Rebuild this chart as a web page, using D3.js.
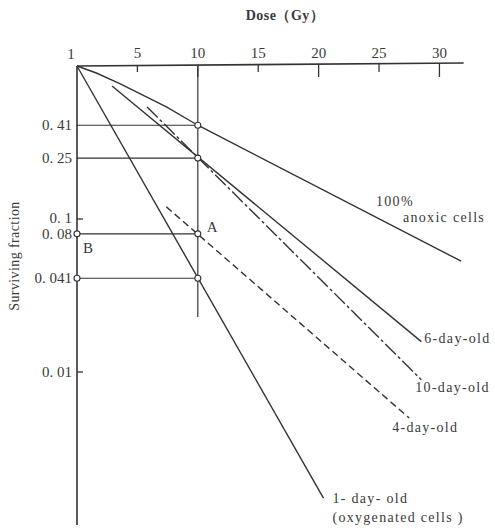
<!DOCTYPE html>
<html>
<head>
<meta charset="utf-8">
<script src="https://cdn.jsdelivr.net/npm/d3@7"></script>
<style>
  body { margin: 0; background: #fff; }
  text { font-family: "Liberation Serif", "DejaVu Serif", serif; fill: #3a3a3a; }
</style>
</head>
<body>
<svg width="495" height="532"></svg>
<script>
// dose ticks (Gy) and surviving fraction ticks
const doseTicks = [5, 10, 15, 20, 25, 30];
const fracTicks = [0.41, 0.25, 0.1, 0.08, 0.041, 0.01];
const refLevels = [0.41, 0.25, 0.08, 0.041];
const refDose = 10;

// curves [dose, surviving fraction]
const anoxic = [[0, 1], [1.6, 0.9], [3.5, 0.77], [7.4, 0.54], [10, 0.41], [31.8, 0.053]];
const sixDay = [[2.9, 0.74], [28.5, 0.0158]];
const tenDay = [[5.8, 0.54], [28.5, 0.0089]];
const fourDay = [[7.4, 0.12], [27.5, 0.005]];
const oneDay = [[0, 1], [20.4, 0.0015]];

const svg = d3.select("svg");
const x = d3.scaleLinear().domain([0, 32]).range([77, 463.6]);
const y = d3.scaleLog().domain([1, 0.001]).range([66, 525]);
const ink = "#333";

const line = d3.line().x(d => x(d[0])).y(d => y(d[1]));

// x axis (top)
svg.append("line")
  .attr("x1", x(0)).attr("x2", x(32)).attr("y1", y(1)).attr("y2", y(1) - 3)
  .attr("stroke", ink).attr("stroke-width", 1.6);
svg.selectAll(".xt").data(doseTicks).enter().append("line")
  .attr("x1", d => x(d)).attr("x2", d => x(d))
  .attr("y1", d => y(1) - d / 11).attr("y2", d => y(1) + (d % 10 === 0 ? 11 : 6))
  .attr("stroke", ink).attr("stroke-width", 1.3);
svg.selectAll(".xl").data(doseTicks).enter().append("text")
  .attr("x", d => x(d)).attr("y", 58)
  .attr("text-anchor", "middle").attr("font-size", 15)
  .text(d => d);
svg.append("text").attr("x", 71).attr("y", 59)
  .attr("text-anchor", "middle").attr("font-size", 15).text("1");
svg.append("text").attr("x", 285).attr("y", 20)
  .attr("text-anchor", "middle").attr("font-size", 14).attr("font-weight", "bold")
  .attr("letter-spacing", 0.5)
  .text("Dose（Gy）");

// y axis (left)
svg.append("line")
  .attr("x1", x(0)).attr("x2", x(0)).attr("y1", y(1)).attr("y2", y(0.001))
  .attr("stroke", ink).attr("stroke-width", 1.6);
svg.selectAll(".yt").data(fracTicks.filter(d => !refLevels.includes(d))).enter().append("line")
  .attr("x1", x(0)).attr("x2", x(0) + 6)
  .attr("y1", d => y(d)).attr("y2", d => y(d))
  .attr("stroke", ink).attr("stroke-width", 1.3);
svg.selectAll(".yl").data(fracTicks).enter().append("text")
  .attr("x", 72).attr("y", d => y(d) + (d === 0.1 ? -1 : 0))
  .attr("dy", "0.35em")
  .attr("text-anchor", "end").attr("font-size", 15)
  .text(d => String(d).replace(".", ". "));
svg.append("text")
  .attr("transform", "translate(19,256) rotate(-90)")
  .attr("text-anchor", "middle").attr("font-size", 14).attr("letter-spacing", 0.4)
  .text("Surviving fraction");

// reference lines at 10 Gy
svg.append("line")
  .attr("x1", x(refDose)).attr("x2", x(refDose)).attr("y1", y(1) - 1).attr("y2", 317)
  .attr("stroke", ink).attr("stroke-width", 1.2);
svg.selectAll(".ref").data(refLevels).enter().append("line")
  .attr("x1", x(0)).attr("x2", x(refDose))
  .attr("y1", d => y(d)).attr("y2", d => y(d))
  .attr("stroke", ink).attr("stroke-width", 1.2);

// curves
const curves = [
  { data: anoxic, dash: null },
  { data: sixDay, dash: null },
  { data: tenDay, dash: "15,3,3,3" },
  { data: fourDay, dash: "7,4" },
  { data: oneDay, dash: null }
];
svg.selectAll(".curve").data(curves).enter().append("path")
  .attr("d", d => line(d.data))
  .attr("fill", "none").attr("stroke", ink).attr("stroke-width", 1.4)
  .attr("stroke-dasharray", d => d.dash);

// markers
const marks = refLevels.map(v => [refDose, v]).concat([[0, 0.08], [0, 0.041]]);
svg.selectAll(".mk").data(marks).enter().append("circle")
  .attr("cx", d => x(d[0])).attr("cy", d => y(d[1])).attr("r", 3)
  .attr("fill", "#fff").attr("stroke", ink).attr("stroke-width", 1.1);

svg.append("text").attr("x", x(refDose) + 9).attr("y", y(0.08) - 2)
  .attr("font-size", 15).text("A");
svg.append("text").attr("x", x(0) + 6).attr("y", y(0.08) + 19)
  .attr("font-size", 15).text("B");

// curve labels
const lab = (t, px, py) => svg.append("text").attr("x", px).attr("y", py)
  .attr("font-size", 14).attr("letter-spacing", 1.3).text(t);
const e6 = sixDay[sixDay.length - 1], e10 = tenDay[tenDay.length - 1];
const e4 = fourDay[fourDay.length - 1], e1 = oneDay[oneDay.length - 1];
lab("100%", 376, 206);
lab("anoxic cells", 403, 222);
lab("6-day-old", x(e6[0]) + 3, y(e6[1]) + 1);
lab("10-day-old", x(e10[0]) - 6, y(e10[1]) + 12);
lab("4-day-old", x(e4[0]) - 17, y(e4[1]) + 14);
lab("1- day- old", x(e1[0]) + 9, y(e1[1]) + 5);
lab("(oxygenated cells )", x(e1[0]) + 9, y(e1[1]) + 24);
</script>
</body>
</html>
